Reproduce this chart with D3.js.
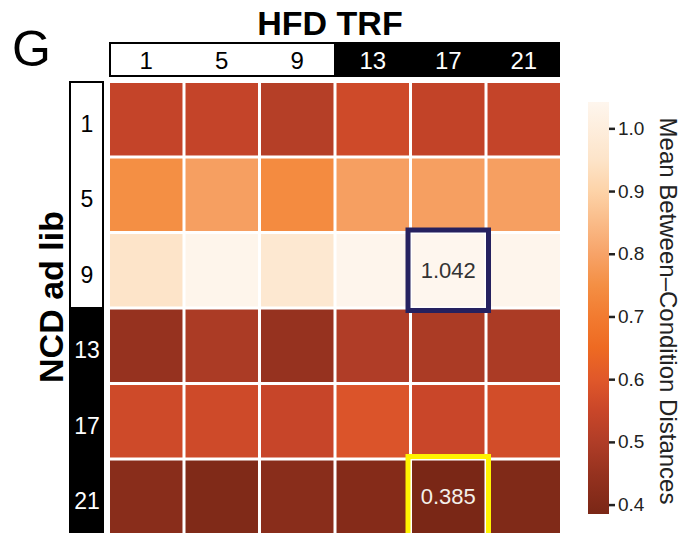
<!DOCTYPE html>
<html>
<head>
<meta charset="utf-8">
<script src="https://d3js.org/d3.v7.min.js"></script>
<style>
    body { margin: 0; background: #fff; }
    svg { font-family: "Liberation Sans", Arial, sans-serif; }
</style>
</head>
<body>
<div id="chart-container"></div>
<script>
    // HFD TRF columns and NCD ad lib rows (timepoints)
    const cols = ['1', '5', '9', '13', '17', '21'];
    const rows = ['1', '5', '9', '13', '17', '21'];

    // Mean between-condition distances, one array per NCD row
    const row1 = [0.540, 0.540, 0.510, 0.560, 0.535, 0.540];
    const row5 = [0.750, 0.790, 0.740, 0.790, 0.790, 0.790];
    const row9 = [0.950, 1.035, 0.970, 1.038, 1.042, 1.036];
    const row13 = [0.450, 0.490, 0.450, 0.500, 0.490, 0.490];
    const row17 = [0.560, 0.560, 0.545, 0.590, 0.550, 0.570];
    const row21 = [0.420, 0.400, 0.420, 0.410, 0.385, 0.400];
    const values = [row1, row5, row9, row13, row17, row21];

    // colorbar ticks and colour stops of the map
    const cbTicks = [0.4, 0.5, 0.6, 0.7, 0.8, 0.9, 1.0];
    const stopVals = [0.385, 0.45, 0.5, 0.55, 0.6, 0.65, 0.7, 0.75, 0.8, 0.9, 0.95, 1.042];
    const stopCols = ['#7a2716', '#96321f', '#b03d27', '#c94629', '#e0582a', '#ee6a22',
                      '#f27b30', '#f48f44', '#f7a368', '#fdd3a8', '#fde4c9', '#fef6ee'];

    // highlighted cells: [row, col, stroke, text colour]
    const marks = [['9', '17', '#26215f', '#333'], ['21', '17', '#fff200', '#f4f0ea']];

    const W = 696, H = 533;
    const svg = d3.select('#chart-container').append('svg')
        .attr('width', W).attr('height', H);

    const x = d3.scaleBand().domain(cols).range([110, 560]).paddingInner(0.04);
    const y = d3.scaleBand().domain(rows).range([83, 533]).paddingInner(0.04);
    const color = d3.scaleLinear().domain(stopVals).range(stopCols);

    const cells = [];
    rows.forEach((r, i) => cols.forEach((c, j) => cells.push({ r, c, v: values[i][j] })));

    svg.selectAll('.cell')
        .data(cells)
        .enter()
        .append('rect')
        .attr('class', 'cell')
        .attr('x', d => x(d.c))
        .attr('y', d => y(d.r))
        .attr('width', x.bandwidth())
        .attr('height', y.bandwidth())
        .attr('fill', d => color(d.v));

    // highlight boxes + value text
    marks.forEach(m => {
        const cell = cells.find(d => d.r === m[0] && d.c === m[1]);
        svg.append('rect')
            .attr('x', x(m[1]) - 4)
            .attr('y', y(m[0]) - 4)
            .attr('width', x.bandwidth() + 8)
            .attr('height', y.bandwidth() + 8)
            .attr('fill', 'none')
            .attr('stroke', m[2])
            .attr('stroke-width', 5);
        svg.append('text')
            .attr('x', x(m[1]) + x.bandwidth() / 2)
            .attr('y', y(m[0]) + y.bandwidth() / 2)
            .attr('dy', '0.35em')
            .attr('text-anchor', 'middle')
            .attr('font-size', 22)
            .attr('fill', m[3])
            .text(cell.v.toFixed(3));
    });

    // top header bar (HFD TRF)
    const split = x('13') - x.step() * x.paddingInner() / 2;
    svg.append('rect').attr('x', 110).attr('y', 43).attr('width', split - 110).attr('height', 33)
        .attr('fill', '#fff').attr('stroke', '#000').attr('stroke-width', 2);
    svg.append('rect').attr('x', split).attr('y', 42).attr('width', 560 - split).attr('height', 35)
        .attr('fill', '#000');
    const topAxis = svg.append('g')
        .attr('transform', 'translate(0,60)')
        .call(d3.axisBottom(x).tickSize(0).tickPadding(0));
    topAxis.select('.domain').remove();
    topAxis.selectAll('text')
        .attr('dy', '0.36em')
        .attr('y', 0)
        .attr('font-size', 24)
        .attr('font-family', '"Liberation Sans", Arial, sans-serif')
        .attr('fill', (d, i) => i < 3 ? '#000' : '#fff');

    // left header bar (NCD ad lib)
    const splitY = y('13') - y.step() * y.paddingInner() / 2;
    svg.append('rect').attr('x', 70).attr('y', 82).attr('width', 33).attr('height', splitY - 82)
        .attr('fill', '#fff').attr('stroke', '#000').attr('stroke-width', 2);
    svg.append('rect').attr('x', 69).attr('y', splitY).attr('width', 35).attr('height', H - splitY)
        .attr('fill', '#000');
    const leftAxis = svg.append('g')
        .attr('transform', 'translate(87,5)')
        .call(d3.axisLeft(y).tickSize(0).tickPadding(0));
    leftAxis.select('.domain').remove();
    leftAxis.selectAll('text')
        .attr('x', 0)
        .attr('text-anchor', 'middle')
        .attr('font-size', 23)
        .attr('font-family', '"Liberation Sans", Arial, sans-serif')
        .attr('fill', (d, i) => i < 3 ? '#000' : '#fff');

    // titles
    svg.append('text').attr('x', 330).attr('y', 35).attr('text-anchor', 'middle')
        .attr('font-size', 34).attr('font-weight', 'bold').text('HFD TRF');
    svg.append('text').attr('transform', 'translate(63,297) rotate(-90)').attr('text-anchor', 'middle')
        .attr('font-size', 34).attr('font-weight', 'bold').text('NCD ad lib');
    svg.append('text').attr('x', 12).attr('y', 66).attr('font-size', 50).text('G');

    // colorbar
    const cb = d3.scaleLinear().domain([0.385, 1.042]).range([514, 102]);
    const grad = svg.append('defs').append('linearGradient')
        .attr('id', 'cbgrad').attr('x1', 0).attr('y1', 1).attr('x2', 0).attr('y2', 0);
    stopVals.forEach((v, i) => {
        grad.append('stop')
            .attr('offset', (v - 0.385) / (1.042 - 0.385))
            .attr('stop-color', stopCols[i]);
    });
    svg.append('rect').attr('x', 588).attr('y', 102).attr('width', 21).attr('height', 412)
        .attr('fill', 'url(#cbgrad)');
    const cbAxis = svg.append('g')
        .attr('transform', 'translate(609,0)')
        .call(d3.axisRight(cb).tickValues(cbTicks).tickFormat(d3.format('.1f')).tickSize(6).tickPadding(3));
    cbAxis.select('.domain').remove();
    cbAxis.selectAll('line').attr('stroke', '#222').attr('stroke-width', 2.5);
    cbAxis.selectAll('text')
        .attr('font-size', 19)
        .attr('fill', '#222')
        .attr('font-family', '"Liberation Sans", Arial, sans-serif');
    svg.append('text').attr('transform', 'translate(660,311) rotate(90)').attr('text-anchor', 'middle')
        .attr('font-size', 24).attr('fill', '#222').text('Mean Between\u2013Condition Distances');
</script>
</body>
</html>
